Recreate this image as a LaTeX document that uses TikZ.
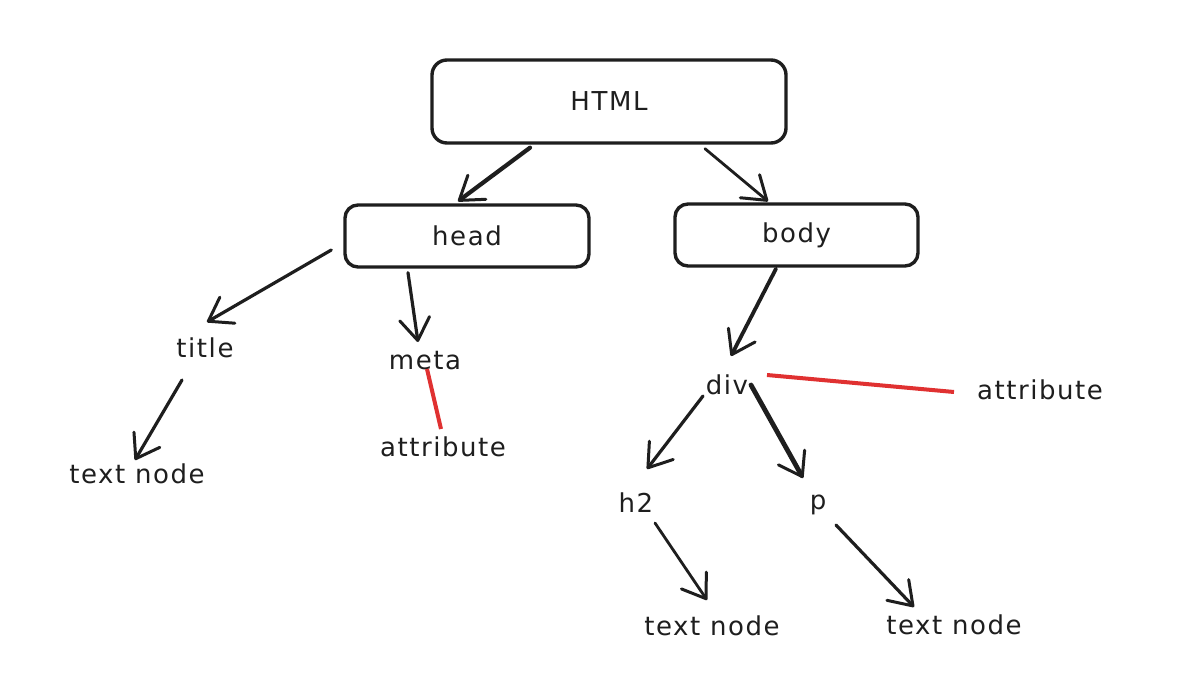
\documentclass[tikz,border=0pt]{standalone}
\usepackage{fontspec}
\setmainfont[LetterSpace=6]{DejaVu Sans}
\usetikzlibrary{arrows.meta,calc}
\definecolor{ink}{HTML}{1E1E1E}
\definecolor{redink}{HTML}{E03131}
\begin{document}
\begin{tikzpicture}[x=1pt,y=-1pt,
  box/.style={draw=ink,line width=3.4pt,rounded corners=15pt,inner sep=0pt,font=\fontsize{26}{30}\selectfont,text=ink},
  lbl/.style={inner sep=0pt,font=\fontsize{26}{30}\selectfont,text=ink},
  arr/.style={draw=ink,line width=3.2pt,line cap=round,-{Straight Barb[length=22pt,width=30pt,line width=3pt,round]}},
  attrline/.style={draw=redink,line width=4pt}]
\useasboundingbox[fill=white] (0,0) rectangle (1198,674);
% boxes
\node[box,minimum width=354pt,minimum height=83pt] (html) at (609,101.5) {HTML};
\node[box,minimum width=244pt,minimum height=62pt,rounded corners=13pt] (head) at (467,236) {head};
\node[box,minimum width=243pt,minimum height=62pt,rounded corners=13pt] (body) at (796.5,235) {body};
% labels
\node[lbl] (title) at (205,348) {title};
\node[lbl] (meta) at (425,361) {meta};
\node[lbl] (attr1) at (443,447) {attribute};
\node[lbl] (tn1) at (137,474) {text node};
\node[lbl] (div) at (727,385) {div};
\node[lbl] (attr2) at (1040,390) {attribute};
\node[lbl] (h2) at (636,503) {h2};
\node[lbl] (p) at (818,505) {p};
\node[lbl] (tn2) at (712,626) {text node};
\node[lbl] (tn3) at (954,625) {text node};
% connectors
\draw[arr,line width=4.2pt] ($(html.south)+(-79,3)$) -- ($(head.north)+(-9,-2)$);
\draw[arr,line width=2.8pt] ($(html.south)+(96,4)$) -- ($(body.north)+(-28.5,-1)$);
\draw[arr] ($(head.west)+(-12,14)$) -- ($(title.center)+(2,-26)$);
\draw[arr] ($(head.south)+(-59,4)$) -- ($(meta.center)+(-7,-19)$);
\draw[arr] ($(title.center)+(-23,32)$) -- ($(tn1.center)+(-2,-14)$);
\draw[attrline] ($(meta.center)+(2,8)$) -- ($(attr1.center)+(-2,-18)$);
\draw[arr,line width=3.8pt] ($(body.south)+(-20.5,1)$) -- ($(div.center)+(4,-29)$);
\draw[arr] ($(div.center)+(-24,11)$) -- ($(h2.center)+(11,-34)$);
\draw[arr,line width=4.8pt] ($(div.center)+(24,0)$) -- ($(p.center)+(-15,-27)$);
\draw[attrline] ($(div.center)+(40,-10)$) -- ($(attr2.center)+(-86,2)$);
\draw[arr,line width=2.8pt] ($(h2.center)+(19,20)$) -- ($(tn2.center)+(-5,-26)$);
\draw[arr] ($(p.center)+(18,20)$) -- ($(tn3.center)+(-40,-18)$);
\end{tikzpicture}
\end{document}
